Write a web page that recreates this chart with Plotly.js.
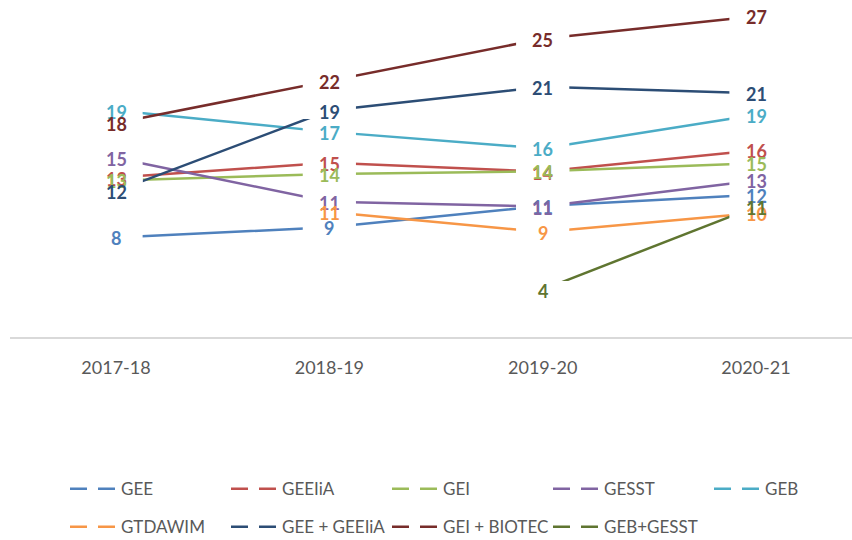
<!DOCTYPE html>
<html><head><meta charset="utf-8">
<script src="https://cdn.plot.ly/plotly-3.0.1.min.js"></script>
<style>html,body{margin:0;padding:0;background:#fff}#chart{width:852px;height:540px}</style>
</head><body><div id="chart"></div>
<script>
const years = ['2017-18', '2018-19', '2019-20', '2020-21'];
const seriesNames = ['GEE', 'GEEIiA', 'GEI', 'GESST', 'GEB', 'GTDAWIM', 'GEE + GEEIiA', 'GEI + BIOTEC', 'GEB+GESST'];
const gee        = [8.4, 9.25, 11.05, 12.0];
const geeiia     = [13.45, 14.7, 13.95, 15.75];
const gei        = [13.2, 13.75, 13.97, 14.65];
const gesst      = [15.1, 11.4, 11.0, 13.2];
const geb        = [19.1, 17.3, 15.9, 18.75];
const gtdawim    = [null, 10.55, 8.85, 10.45];
const geeGeeiia  = [12.3, 19.1, 21.1, 20.55];
const geiBiotec  = [18.05, 21.6, 25.15, 27.05];
const gebGesst   = [null, null, 4.0, 11.0];
const seriesValues = [gee, geeiia, gei, gesst, geb, gtdawim, geeGeeiia, geiBiotec, gebGesst];
const colors = ['#4F81BD', '#C0504D', '#9BBB59', '#8064A2', '#4BACC6', '#F79646', '#2C4D75', '#772C2A', '#5F7530'];

const traces = [];
// main lines
seriesValues.forEach((vals, i) => {
  traces.push({
    x: years, y: vals, mode: 'lines', type: 'scatter',
    line: {color: colors[i], width: 2.5},
    showlegend: false, hoverinfo: 'skip', connectgaps: false
  });
});
// white label boxes hiding the lines under the labels
seriesValues.forEach((vals, i) => {
  traces.push({
    x: years, y: vals, mode: 'markers', type: 'scatter',
    marker: {symbol: 'line-ew', size: 38, color: '#fff', line: {color: '#ffffff', width: 17}},
    showlegend: false, hoverinfo: 'skip', cliponaxis: false
  });
});
// legend entries (dashed swatches)
seriesNames.forEach((name, i) => {
  traces.push({
    x: [null], y: [null], mode: 'lines', type: 'scatter', name: name,
    line: {color: colors[i], width: 2.5, dash: '17px,11px'},
    legend: i < 5 ? 'legend' : 'legend2', hoverinfo: 'skip'
  });
});

// data labels
const annotations = [];
seriesValues.forEach((vals, i) => {
  vals.forEach((v, j) => {
    if (v === null) return;
    annotations.push({
      x: years[j], y: v, xref: 'x', yref: 'y', showarrow: false,
      text: '<b>' + Math.round(v) + '</b>', yshift: -1,
      font: {family: 'Lato', size: 18, color: colors[i]}
    });
  });
});

const legendBase = {
  orientation: 'h', x: 0.0653, xanchor: 'left', yanchor: 'middle',
  entrywidth: 100, entrywidthmode: 'pixels', itemwidth: 46,
  font: {family: 'Lato', size: 17, color: '#595959'},
  bgcolor: 'rgba(0,0,0,0)', traceorder: 'normal'
};

const layout = {
  width: 852, height: 540,
  margin: {l: 10, r: 0, t: 5, b: 202.5, autoexpand: false},
  paper_bgcolor: '#ffffff', plot_bgcolor: '#ffffff',
  showlegend: true,
  annotations: annotations,
  xaxis: {
    type: 'category', range: [-0.497, 3.45],
    showline: true, linecolor: '#D9D9D9', linewidth: 1.5,
    showgrid: false, zeroline: false, ticks: '',
    ticklabelstandoff: 14,
    tickfont: {family: 'Lato', size: 18, color: '#595959'}
  },
  yaxis: {
    range: [0, 28], showticklabels: false, showgrid: false,
    zeroline: false, showline: false, ticks: ''
  },
  legend: Object.assign({}, legendBase, {y: -0.4586}),
  legend2: Object.assign({}, legendBase, {y: -0.573})
};

Plotly.newPlot('chart', traces, layout, {displayModeBar: false, staticPlot: true});
</script>
</body></html>
